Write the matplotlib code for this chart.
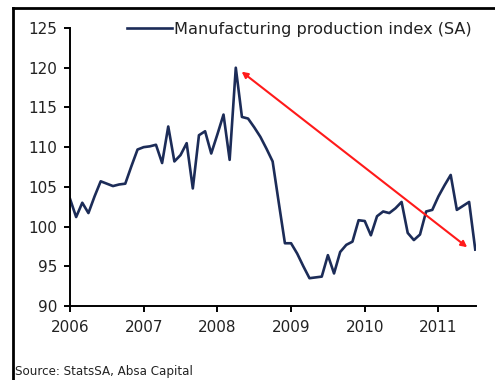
import numpy as np
import matplotlib
matplotlib.use("Agg")
import matplotlib.pyplot as plt
from matplotlib.lines import Line2D

# monthly index, Jan 2006 .. Jul 2011
index_sa = [
    103.5, 101.2, 103.0, 101.7, 103.8, 105.7, 105.4, 105.1, 105.3, 105.4, 107.6, 109.7,
    110.0, 110.1, 110.3, 108.0, 112.6, 108.2, 109.0, 110.5, 104.8, 111.5, 112.0, 109.2,
    111.6, 114.1, 108.4, 120.0, 113.8, 113.6, 112.5, 111.3, 109.8, 108.2, 103.0, 97.9,
    97.9, 96.6, 95.0, 93.5, 93.6, 93.7, 96.4, 94.1, 96.8, 97.7, 98.1, 100.8,
    100.7, 98.9, 101.3, 101.9, 101.7, 102.3, 103.1, 99.2, 98.3, 99.0, 101.9, 102.1,
    103.8, 105.2, 106.5, 102.1, 102.6, 103.1, 97.1,
]
years = [2006, 2007, 2008, 2009, 2010, 2011]
y_ticks = [90, 95, 100, 105, 110, 115, 120, 125]
trend_start = (2008.33, 119.5)
trend_end = (2011.39, 97.4)
series_label = "Manufacturing production index (SA)"
source_note = "Source: StatsSA, Absa Capital"

x = 2006 + np.arange(len(index_sa)) / 12.0

fig = plt.figure(figsize=(4.95, 3.8), dpi=100)
ax = fig.add_axes([70 / 495, 1 - 306 / 380, 406 / 495, 278 / 380])

text_col = "#222222"
ax.plot(x, index_sa, color="#1c2c58", lw=1.9, label=series_label)

ax.annotate("", xy=trend_end, xytext=trend_start,
            arrowprops=dict(arrowstyle="<|-|>,head_length=0.35,head_width=0.18",
                            color="#ff1a1a", lw=1.5, shrinkA=0, shrinkB=0))

ax.set_xlim(2006, 2011.51)
ax.set_ylim(90, 125)
ax.set_xticks(years)
ax.set_xticklabels([str(y) for y in years])
ax.set_yticks(y_ticks)

for s in ["top", "right"]:
    ax.spines[s].set_visible(False)
for s in ["left", "bottom"]:
    ax.spines[s].set_linewidth(1.4)
    ax.spines[s].set_color("black")

ax.tick_params(axis="both", direction="out", length=4, width=1.4, colors="black",
               labelcolor=text_col, labelsize=11)
ax.tick_params(axis="x", pad=6)
ax.tick_params(axis="y", pad=5)

leg = ax.legend(loc="upper left", bbox_to_anchor=(0.125, 1.045), frameon=False,
                handlelength=2.8, handletextpad=0.1, borderaxespad=0,
                fontsize=11.6, labelcolor=text_col)

fig.text(15 / 495, 1 - 372 / 380, source_note, fontsize=8.6, color=text_col,
         ha="left", va="center")

# outer frame (top and left edges)
fig.add_artist(Line2D([13 / 495, 1.0], [1 - 8 / 380, 1 - 8 / 380],
                      transform=fig.transFigure, color="black", lw=2))
fig.add_artist(Line2D([13 / 495, 13 / 495], [0, 1 - 8 / 380],
                      transform=fig.transFigure, color="black", lw=2))

fig.savefig("out.png", dpi=100)
